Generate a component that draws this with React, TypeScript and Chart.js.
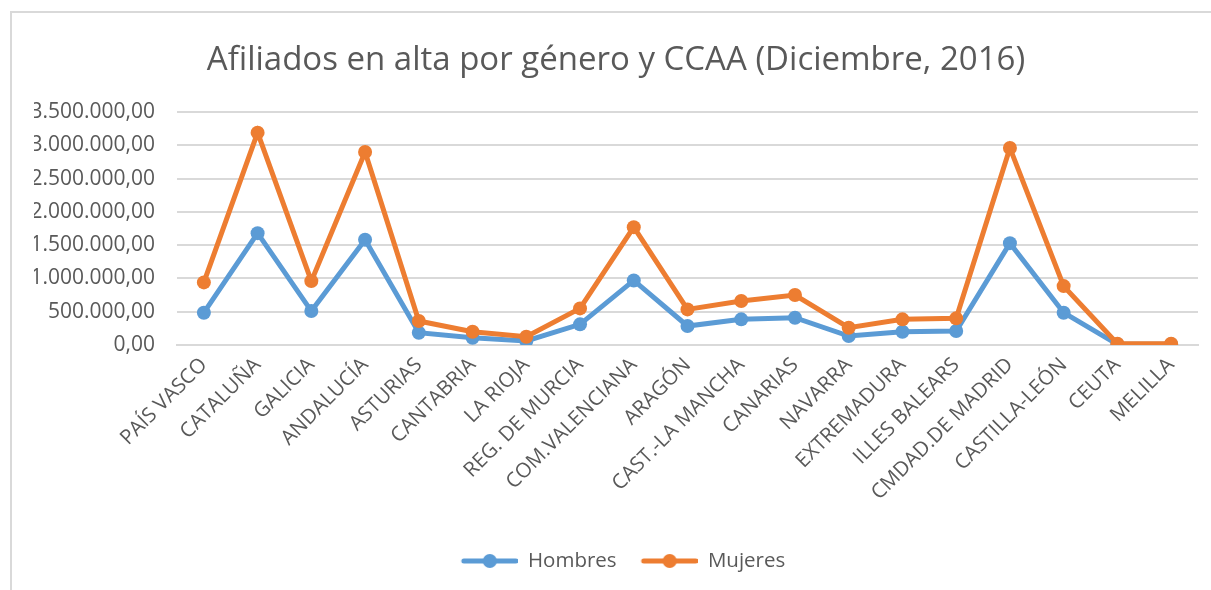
import React, { useEffect, useRef } from "react";
import { Chart, registerables } from "chart.js";

Chart.register(...registerables);

const categories = [
  "PAÍS VASCO", "CATALUÑA", "GALICIA", "ANDALUCÍA", "ASTURIAS", "CANTABRIA",
  "LA RIOJA", "REG. DE MURCIA", "COM.VALENCIANA", "ARAGÓN", "CAST.-LA MANCHA",
  "CANARIAS", "NAVARRA", "EXTREMADURA", "ILLES BALEARS", "CMDAD.DE MADRID",
  "CASTILLA-LEÓN", "CEUTA", "MELILLA",
];

const hombres = [
  485000, 1680000, 510000, 1580000, 185000, 110000, 60000, 310000, 970000,
  285000, 385000, 410000, 135000, 200000, 210000, 1530000, 485000, 10000, 10000,
];

const mujeres = [
  940000, 3190000, 960000, 2900000, 360000, 200000, 125000, 550000, 1770000,
  535000, 660000, 750000, 260000, 385000, 400000, 2960000, 885000, 20000, 20000,
];

const yTicks = [0, 500000, 1000000, 1500000, 2000000, 2500000, 3000000, 3500000];

const title = "Afiliados en alta por género y CCAA (Diciembre, 2016)";
const seriesNames = ["Hombres", "Mujeres"];
const colors = ["#5B9BD5", "#ED7D31"];

function fmt(v: number): string {
  const s = Math.round(v).toString().replace(/\B(?=(\d{3})+(?!\d))/g, ".");
  return s + ",00";
}

function legendImage(color: string): HTMLCanvasElement {
  const c = document.createElement("canvas");
  c.width = 71;
  c.height = 16;
  const ctx = c.getContext("2d")!;
  ctx.strokeStyle = color;
  ctx.lineWidth = 5;
  ctx.lineCap = "round";
  ctx.beginPath();
  ctx.moveTo(17, 8);
  ctx.lineTo(69, 8);
  ctx.stroke();
  ctx.fillStyle = color;
  ctx.beginPath();
  ctx.arc(43, 8, 7, 0, Math.PI * 2);
  ctx.fill();
  return c;
}

export default function App() {
  const ref = useRef<HTMLCanvasElement | null>(null);

  useEffect(() => {
    if (!ref.current) return;
    const font = "'Open Sans', sans-serif";
    const imgs = colors.map(legendImage);
    const chart = new Chart(ref.current, {
      type: "line",
      data: {
        labels: categories,
        datasets: [
          {
            label: seriesNames[0],
            data: hombres,
            borderColor: colors[0],
            backgroundColor: colors[0],
            pointBackgroundColor: colors[0],
            borderWidth: 5,
            pointRadius: 7,
            pointBorderWidth: 0,
            order: 1,
          },
          {
            label: seriesNames[1],
            data: mujeres,
            borderColor: colors[1],
            backgroundColor: colors[1],
            pointBackgroundColor: colors[1],
            borderWidth: 5,
            pointRadius: 7,
            pointBorderWidth: 0,
            order: 0,
          },
        ],
      },
      options: {
        responsive: false,
        animation: false,
        layout: { padding: { left: 34, right: 13, top: 0, bottom: 8.75 } },
        plugins: {
          tooltip: { enabled: false },
          title: {
            display: true,
            text: title,
            color: "#595959",
            font: { family: font, size: 33, weight: "normal" },
            padding: { top: 41, bottom: 31.4 },
          },
          legend: {
            position: "bottom",
            labels: {
              usePointStyle: true,
              pointStyleWidth: 71,
              padding: 10,
              color: "#595959",
              font: { family: font, size: 20.5 },
              generateLabels: () =>
                seriesNames.map((n, i) => ({
                  text: n,
                  fillStyle: colors[i],
                  strokeStyle: colors[i],
                  pointStyle: imgs[i] as any,
                  lineWidth: 0,
                  hidden: false,
                  datasetIndex: i,
                  fontColor: "#595959",
                })),
            },
          },
        },
        scales: {
          x: {
            offset: true,
            grid: { display: false, drawTicks: false },
            border: { display: true, color: "#d9d9d9", width: 2 },
            ticks: {
              autoSkip: false,
              minRotation: 45,
              maxRotation: 45,
              color: "#595959",
              padding: 8,
              font: { family: font, size: 20.5 },
            },
            afterFit: (s: any) => {
              s.height = 195.75;
            },
          },
          y: {
            min: 0,
            max: 3500000,
            afterBuildTicks: (s: any) => {
              s.ticks = yTicks.map((v) => ({ value: v }));
            },
            grid: { color: "#d9d9d9", lineWidth: 2, drawTicks: false },
            border: { display: false },
            ticks: {
              color: "#595959",
              padding: 22,
              font: { family: font, size: 21 },
              callback: (v: any) => fmt(Number(v)),
            },
            afterFit: (s: any) => {
              s.width = 143;
            },
          },
        },
      },
    });
    return () => chart.destroy();
  }, []);

  return (
    <div style={{ position: "fixed", left: 0, top: 0, width: 1211, height: 590, background: "#fff" }}>
      <div
        style={{
          position: "absolute",
          left: 10,
          top: 11,
          width: 1201,
          height: 579,
          borderTop: "2px solid #d9d9d9",
          borderLeft: "2px solid #d9d9d9",
          boxSizing: "border-box",
        }}
      />
      <canvas ref={ref} width={1211} height={590} style={{ position: "absolute", left: 0, top: 0 }} />
    </div>
  );
}
